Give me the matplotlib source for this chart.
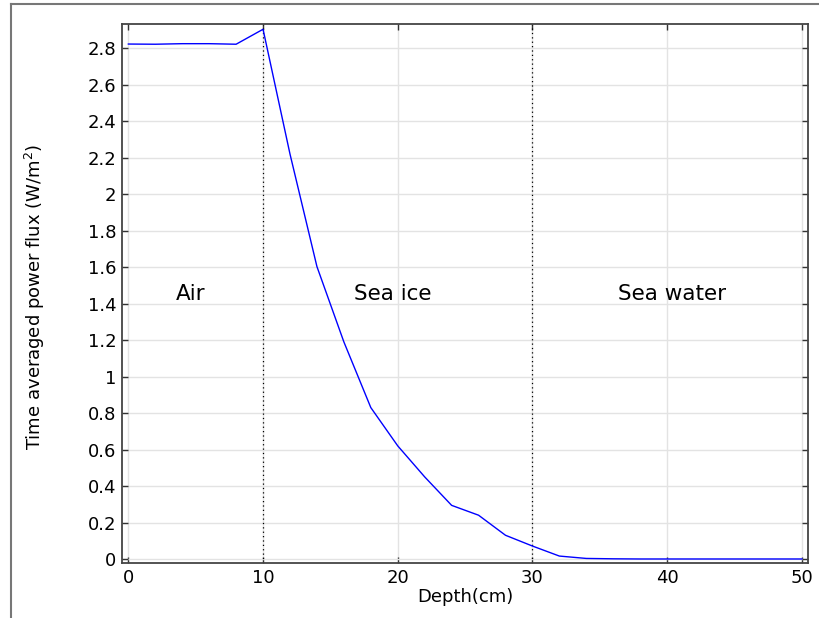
import matplotlib
matplotlib.use("Agg")
import matplotlib.pyplot as plt
from matplotlib.lines import Line2D
from matplotlib.ticker import FormatStrFormatter, MultipleLocator

# depth samples (cm) and time averaged power flux (W/m^2)
depth = [0, 2, 4, 6, 8, 10, 12, 14, 16, 18, 20, 22, 24, 26, 28, 30,
         32, 34, 36, 38, 40, 42, 44, 46, 48, 50]
flux = [2.823, 2.822, 2.825, 2.825, 2.822, 2.904, 2.22, 1.603, 1.19, 0.83,
        0.62, 0.45, 0.294, 0.24, 0.13, 0.071, 0.016, 0.003, 0.001, 0.0,
        0.0, 0.0, 0.0, 0.0, 0.0, 0.0]

# layer boundaries and region labels
boundaries = [10, 30]
regions = ["Air", "Sea ice", "Sea water"]
region_x = [4.65, 19.65, 40.4]
region_y = 1.45

fig = plt.figure(figsize=(8.19, 6.18), dpi=100)
ax = fig.add_axes([0.149, 0.089, 0.8376, 0.8722])

# outer frame (only top and left edges fall inside the image)
fig.add_artist(Line2D([11 / 819, 1.0], [1 - 4 / 618, 1 - 4 / 618],
                      transform=fig.transFigure, color="#777777", lw=1.5))
fig.add_artist(Line2D([11 / 819, 11 / 819], [0.0, 1 - 4 / 618],
                      transform=fig.transFigure, color="#777777", lw=1.5))

ax.plot(depth, flux, color="#0000ff", lw=1.0, zorder=3)
for b in boundaries:
    ax.axvline(b, color="black", ls=(0, (1, 2.5)), lw=0.9, zorder=2)

for name, x in zip(regions, region_x):
    ax.text(x, region_y, name, ha="center", va="center", fontsize=15.5)

ax.set_xlim(-0.47, 50.46)
ax.set_ylim(-0.022, 2.933)
ax.xaxis.set_major_locator(MultipleLocator(10))
ax.yaxis.set_major_locator(MultipleLocator(0.2))
ax.yaxis.set_major_formatter(FormatStrFormatter("%g"))
ax.tick_params(direction="in", length=4, width=1, top=True, right=True,
               labelsize=13, color="#333333", pad=4)
ax.grid(True, color="#e3e3e3", lw=1.0, zorder=0)
for s in ax.spines.values():
    s.set_color("#444444")
    s.set_linewidth(1.3)

ax.set_xlabel("Depth(cm)", fontsize=13)
ax.xaxis.set_label_coords(0.5, -0.046)
ax.set_ylabel("Time averaged power flux (W/m$^2$)", fontsize=13)
ax.yaxis.set_label_coords(-0.109, 0.494)

fig.savefig("out.png", dpi=100)
